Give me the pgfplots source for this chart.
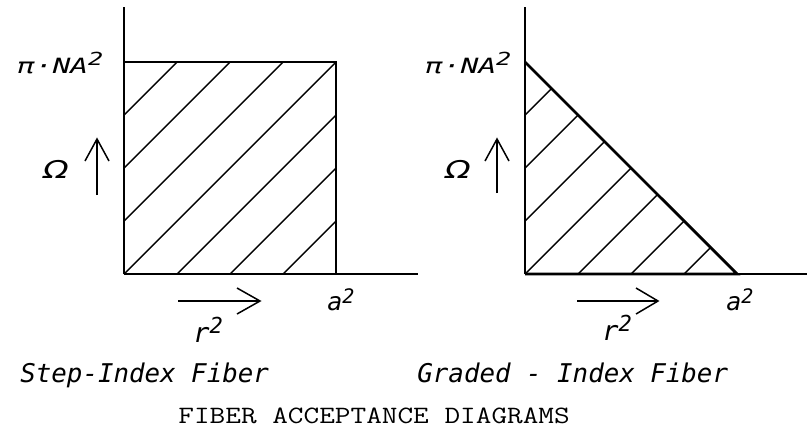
\documentclass[border=0pt]{standalone}
\usepackage{fontspec}
\usepackage{graphicx}
\usepackage{pgfplots}
\pgfplotsset{compat=1.18}
\newfontfamily\hand{DejaVu Sans Mono}
\newfontfamily\handp{DejaVu Sans}
\begin{document}
\begin{tikzpicture}
\useasboundingbox (0,0) rectangle (403.5pt,-215pt);
\pgfplotsset{fad/.style={
  scale only axis, clip=false, no markers,
  axis x line=bottom, axis y line=left,
  axis line style={-, line width=0.75pt, black},
  xtick=\empty, ytick=\empty,
  xmin=0, ymin=0, ymax=5.038,
  height=133.5pt, anchor=south west}}
% Step-index fiber
\begin{axis}[fad, at={(62pt,-137pt)}, width=147pt, xmax=5.547]
\addplot[black, line width=0.7pt] coordinates {(0,3) (1,4)};
\addplot[black, line width=0.7pt] coordinates {(0,2) (2,4)};
\addplot[black, line width=0.7pt] coordinates {(0,1) (3,4)};
\addplot[black, line width=0.7pt] coordinates {(0,0) (4,4)};
\addplot[black, line width=0.7pt] coordinates {(1,0) (4,3)};
\addplot[black, line width=0.7pt] coordinates {(2,0) (4,2)};
\addplot[black, line width=0.7pt] coordinates {(3,0) (4,1)};
\addplot[black, line width=1.4pt] coordinates {(0,4) (4,4) (4,0) (0,0)};
\end{axis}
% Graded-index fiber
\begin{axis}[fad, at={(262.5pt,-137pt)}, width=141pt, xmax=5.32]
\addplot[black, line width=0.7pt] coordinates {(0,3) (0.5,3.5)};
\addplot[black, line width=0.7pt] coordinates {(0,2) (1,3)};
\addplot[black, line width=0.7pt] coordinates {(0,1) (1.5,2.5)};
\addplot[black, line width=0.7pt] coordinates {(0,0) (2,2)};
\addplot[black, line width=0.7pt] coordinates {(1,0) (2.5,1.5)};
\addplot[black, line width=0.7pt] coordinates {(2,0) (3,1)};
\addplot[black, line width=0.7pt] coordinates {(3,0) (3.5,0.5)};
\addplot[black, line width=1.4pt] coordinates {(0,4) (4,0) (0,0)};
\end{axis}
\begin{scope}[x=0.5pt, y=-0.5pt, every node/.style={inner sep=0pt, anchor=base west}]
% pi NA^2 labels
\node at (17,73) {\hand\itshape\fontsize{10.5}{12}\selectfont\scalebox{1.4}[1]{π·NA\raisebox{4pt}{\fontsize{9}{10}\selectfont 2}}};
\node at (425,73) {\hand\itshape\fontsize{10.5}{12}\selectfont\scalebox{1.4}[1]{π·NA\raisebox{4pt}{\fontsize{9}{10}\selectfont 2}}};
% Omega
\node at (43,178) {\handp\itshape\fontsize{12.3}{14}\selectfont\scalebox{1.35}[1]{Ω}};
\node at (445,178) {\handp\itshape\fontsize{12.3}{14}\selectfont\scalebox{1.35}[1]{Ω}};
% up arrows
\draw[line width=0.75pt] (97,195) -- (97,139);
\draw[line width=0.75pt, line join=miter] (85,161) -- (97,139) -- (109,161);
\draw[line width=0.75pt] (497,193) -- (497,139);
\draw[line width=0.75pt, line join=miter] (485,161) -- (497,139) -- (509,161);
% right arrows
\draw[line width=0.75pt] (178,301) -- (260,301);
\draw[line width=0.75pt, line join=miter] (237,288) -- (260,301) -- (237,314);
\draw[line width=0.75pt] (577,301) -- (658,301);
\draw[line width=0.75pt, line join=miter] (636,288) -- (658,301) -- (636,314);
% a^2
\node at (327,310) {\hand\itshape\fontsize{12.5}{14}\selectfont a\raisebox{3.5pt}{\fontsize{10}{11}\selectfont 2}};
\node at (726,310) {\hand\itshape\fontsize{12.5}{14}\selectfont a\raisebox{3.5pt}{\fontsize{10}{11}\selectfont 2}};
% r^2
\node at (193,342) {\hand\itshape\fontsize{13.5}{15}\selectfont r\raisebox{4.5pt}{\fontsize{11}{12}\selectfont 2}};
\node at (602,340) {\hand\itshape\fontsize{13.5}{15}\selectfont r\raisebox{4.5pt}{\fontsize{11}{12}\selectfont 2}};
% fiber names
\node at (20,382) {\hand\itshape\fontsize{12.9}{15}\selectfont Step-Index Fiber};
\node at (417,382) {\hand\itshape\fontsize{12.9}{15}\selectfont Graded - Index Fiber};
% title
\node at (178,423) {\ttfamily\fontsize{15.2}{17}\selectfont\scalebox{1}[0.82]{FIBER ACCEPTANCE DIAGRAMS}};
\end{scope}
\end{tikzpicture}
\end{document}
